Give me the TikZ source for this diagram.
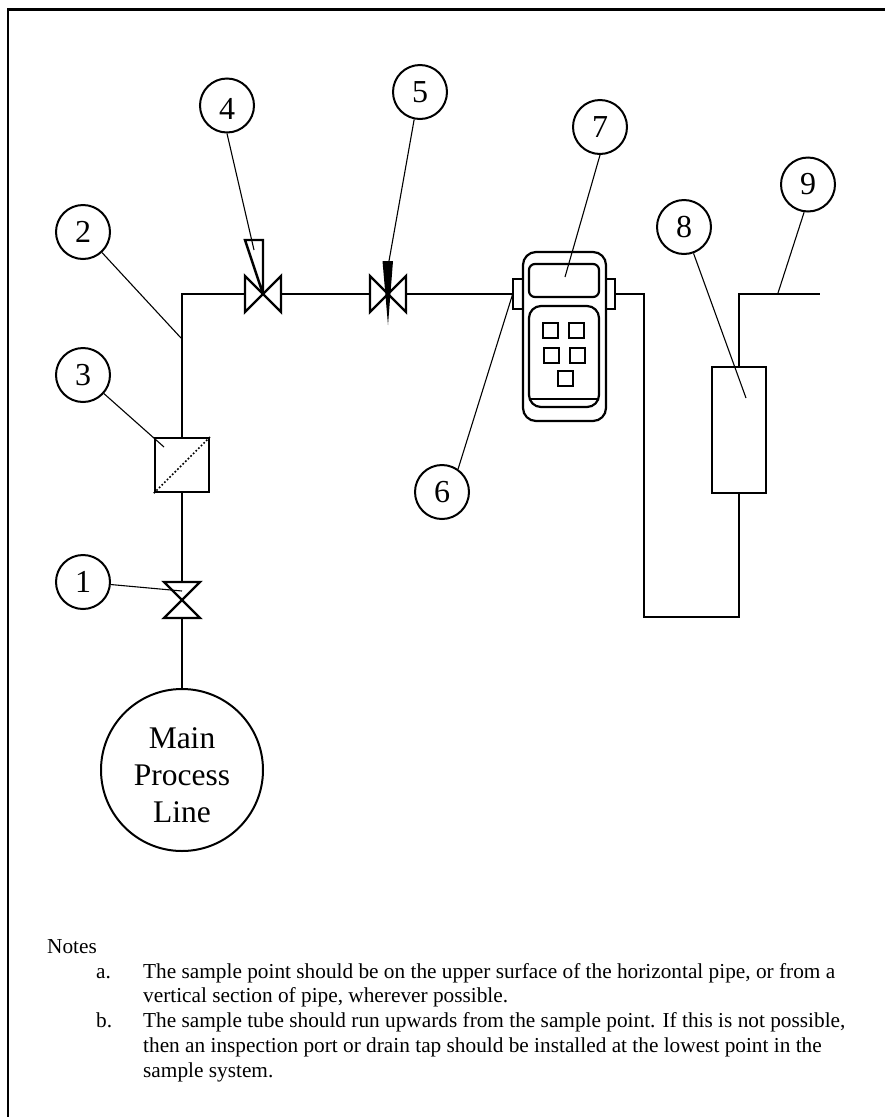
\documentclass[tikz,border=0pt]{standalone}
\usepackage{fontspec}
\setmainfont{Liberation Serif}
\usetikzlibrary{calc}
\tikzset{
	pipe/.style={line width=2.4pt,line join=miter},
	leader/.style={line width=1.1pt},
	tag/.style={circle,draw,line width=2pt,minimum size=54,inner sep=0,font=\fontsize{32}{37}\selectfont},
	keybtn/.style={draw,line width=2pt,minimum size=15,inner sep=0},
	notetext/.style={anchor=base west,inner sep=0,font=\fontsize{21.3}{24}\selectfont}
}
\begin{document}
\begin{tikzpicture}[x=1pt,y=-1pt]
	\useasboundingbox (0,0) rectangle (885,1117);
	\draw[line width=2.4pt] (8,1117)--(8,9.5)--(885,9.5);

	\node[circle,draw,line width=2pt,minimum size=162,inner sep=0] (main) at (182,770) {};
	\node[align=center,inner sep=0,font=\fontsize{31.5}{37}\selectfont] (mainlabel) at (182,775) {Main\\Process\\Line};
	\node[draw,line width=2.4pt,minimum size=54,inner sep=0] (filter) at (182,465) {};
	\draw[line width=1.7pt,dash pattern=on 1.7pt off 2pt] (filter.south west)--(filter.north east);
	\node[draw,line width=2pt,minimum width=54,minimum height=126,inner sep=0] (flow) at (739,429.5) {};

	\coordinate (v1top) at (182,582);
	\coordinate (v1bot) at (182,618);
	\coordinate (v4in) at (245,294);
	\coordinate (v4mid) at (263,294);
	\coordinate (v4out) at (281,294);
	\coordinate (v5in) at (370,294);
	\coordinate (v5out) at (406,294);
	\coordinate (corner) at (182,294);
	\coordinate (drop) at (644,294);
	\coordinate (low) at (644,617);
	\coordinate (rise) at (739,617);
	\coordinate (top) at (739,294);
	\coordinate (vent) at (820,294);

	\draw[pipe] (164,582)--(200,618)--(164,618)--(200,582)--cycle;
	\draw[pipe] (245,276)--(281,312)--(281,276)--(245,312)--cycle;
	\draw[pipe] (370,276)--(406,312)--(406,276)--(370,312)--cycle;
	\draw[pipe] (v4mid)--(245,240)--(263,240)--(v4mid);
	\fill[black] (382.5,261)--(393,261)--(388,325)--cycle;

	\node[draw,line width=2.2pt,rounded corners=13,minimum width=83,minimum height=169,inner sep=0] (meter) at (564.5,336.5) {};
	\node[draw,line width=2.2pt,rounded corners=6,minimum width=70,minimum height=33,inner sep=0] (screen) at (564,280.5) {};
	\node[draw,line width=2.2pt,rounded corners=12,minimum width=70,minimum height=101,inner sep=0] (keypad) at (564,356.5) {};
	\draw[line width=2pt] (530.5,399)--(597.5,399);
	\node[draw,line width=2.2pt,minimum width=10,minimum height=30,inner sep=0] (lugl) at (518,294) {};
	\node[draw,line width=2.2pt,minimum width=9,minimum height=30,inner sep=0] (lugr) at (610.5,294) {};
	\node[keybtn] (k1) at (550.5,330.5) {};
	\node[keybtn] (k2) at (576.5,330.5) {};
	\node[keybtn] (k3) at (551.5,355) {};
	\node[keybtn] (k4) at (577.5,355) {};
	\node[keybtn] (k5) at (565,378.5) {};

	\draw[pipe] (main.north)--(v1bot);
	\draw[pipe] (v1top)--(filter.south);
	\draw[pipe] (filter.north)--(corner)--(v4in);
	\draw[pipe] (v4out)--(v5in);
	\draw[pipe] (v5out)--(lugl.west);
	\draw[pipe] (lugr.east)--(drop)--(low)--(rise)--(flow.south);
	\draw[pipe] (flow.north)--(top)--(vent);

	\node[tag] (c1) at (83,582) {1};
	\node[tag] (c2) at (83,232) {2};
	\node[tag] (c3) at (83,375) {3};
	\node[tag] (c4) at (227,105.5) {\rule{0pt}{28.6pt}4};
	\node[tag] (c5) at (420,92) {5};
	\node[tag] (c6) at (442,492) {6};
	\node[tag] (c7) at (600,127) {7};
	\node[tag] (c8) at (684,227) {8};
	\node[tag] (c9) at (808,184.5) {9};

	\coordinate (p1) at (182,591);
	\coordinate (p2) at (181,338);
	\coordinate (p3) at (164,447);
	\coordinate (p4) at (254,250);
	\coordinate (p5) at (389,261);
	\coordinate (p6) at (513,293);
	\coordinate (p7) at (565,277);
	\coordinate (p8) at (746,398);
	\coordinate (p9) at (778,293);
	\draw[leader] (c1)--(p1);
	\draw[leader] (c2)--(p2);
	\draw[leader] (c3)--(p3);
	\draw[leader] (c4.south)--(p4);
	\draw[leader] (c5.-102)--(p5);
	\draw[leader] (c6.55)--(p6);
	\draw[leader] (c7.south)--(p7);
	\draw[leader] (c8)--(p8);
	\draw[leader] (c9.-98)--(p9);

	\node[notetext] (notes) at (47,953) {Notes};
	\node[notetext] (la) at (96,978) {a.};
	\node[notetext] (a1) at (143,978) {The sample point should be on the upper surface of the horizontal pipe, or from a};
	\node[notetext] (a2) at (143,1002) {vertical section of pipe, wherever possible.};
	\node[notetext] (lb) at (96,1027) {b.};
	\node[notetext] (b1) at (143,1027) {The sample tube should run upwards from the sample point. If this is not possible,};
	\node[notetext] (b2) at (143,1052) {then an inspection port or drain tap should be installed at the lowest point in the};
	\node[notetext] (b3) at (143,1077) {sample system.};
\end{tikzpicture}
\end{document}
